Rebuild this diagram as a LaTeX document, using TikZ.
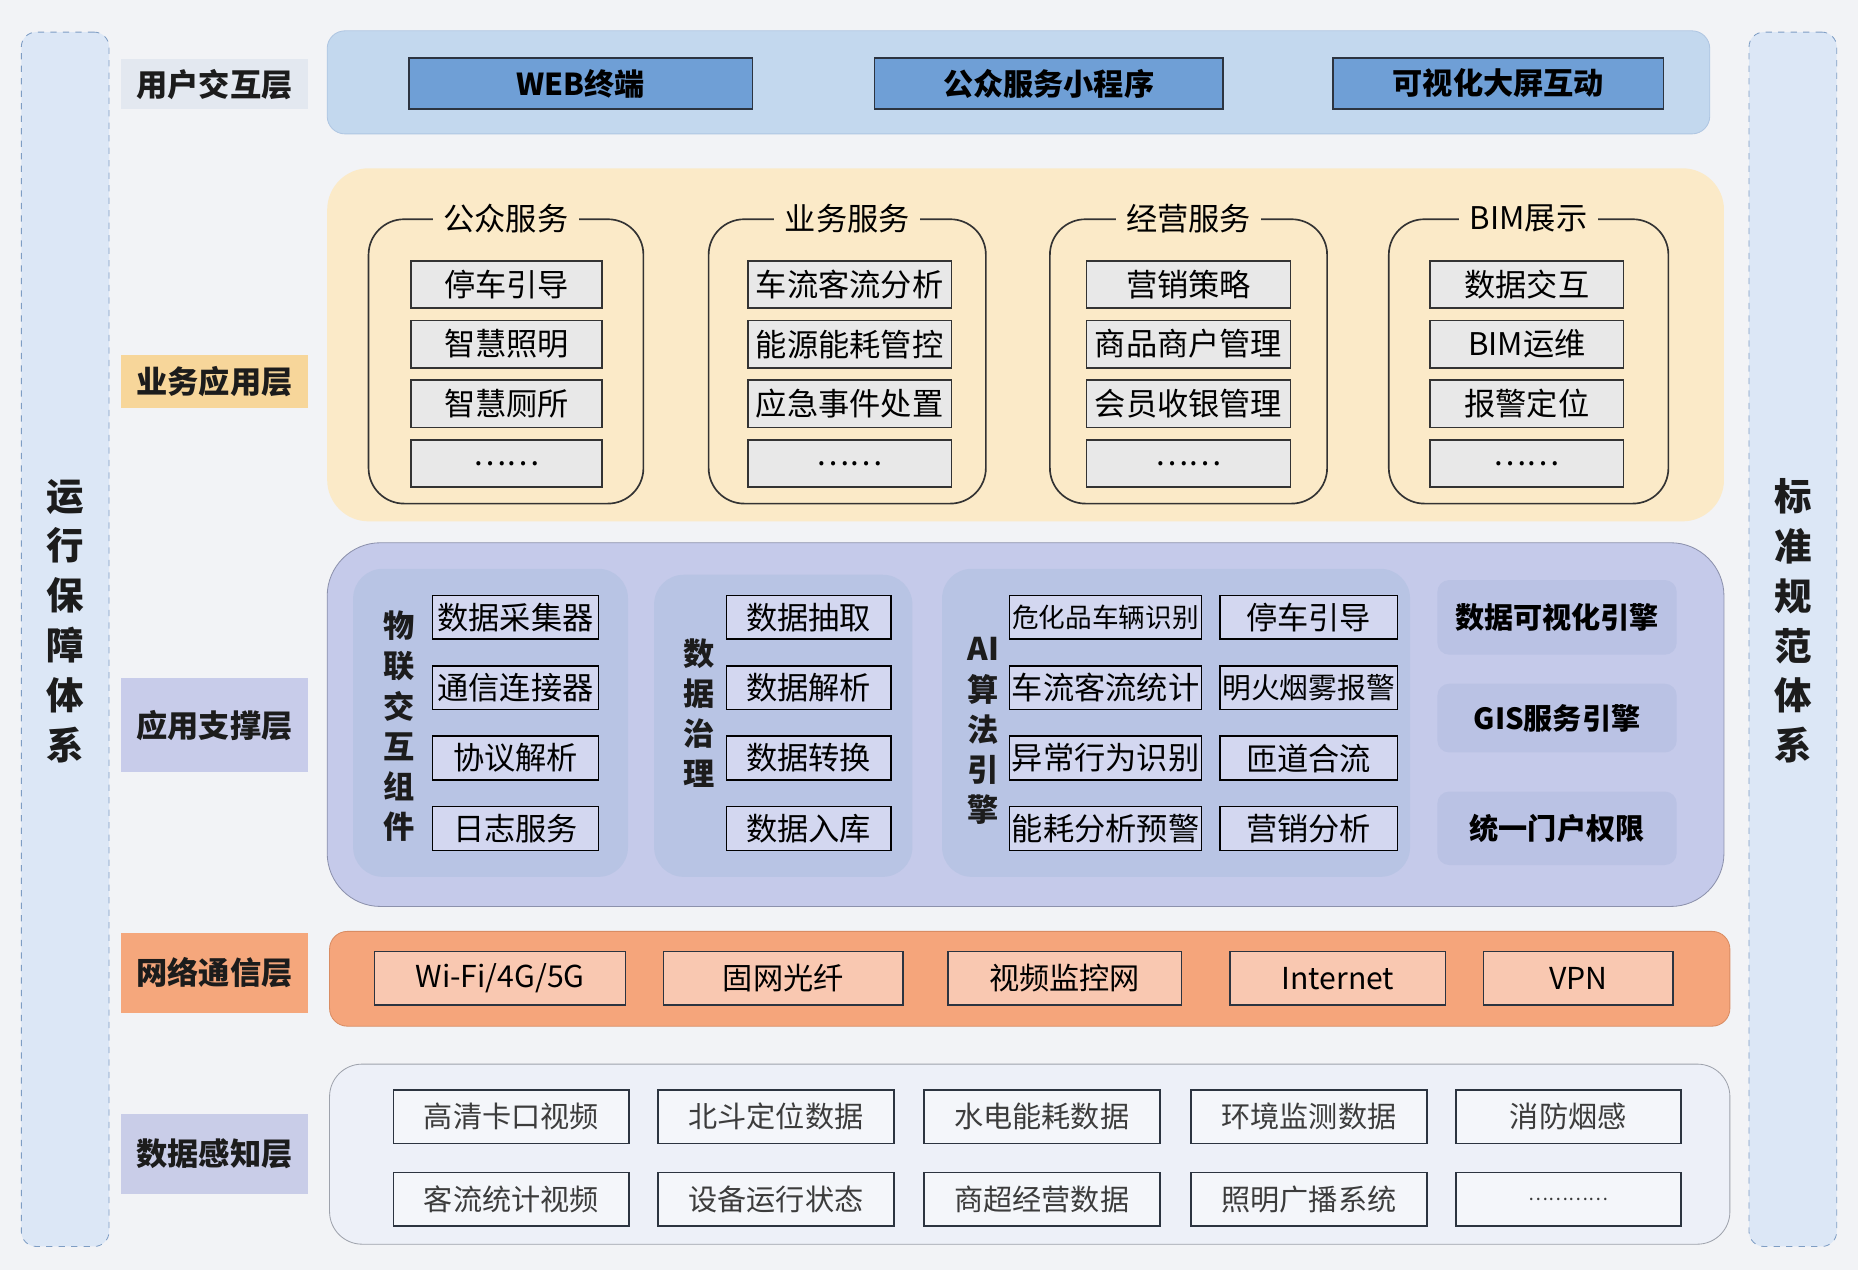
\documentclass[tikz,border=0pt]{standalone}
\usepackage{fontspec}
\setmainfont{Noto Sans CJK SC}
\usetikzlibrary{positioning}

\definecolor{pagebg}{HTML}{F2F3F6}
\definecolor{sidebg}{HTML}{DCE7F6}
\definecolor{sideln}{HTML}{7E9DC4}
\definecolor{txtdark}{HTML}{1C1C1C}
\definecolor{txtgray}{HTML}{3C3C3C}
\definecolor{ulbl}{HTML}{E3E8F0}
\definecolor{upanel}{HTML}{C3D8EE}
\definecolor{uln}{HTML}{AFC6E2}
\definecolor{ublue}{HTML}{6F9FD6}
\definecolor{btnln}{HTML}{2C3440}
\definecolor{bizlbl}{HTML}{F7D69A}
\definecolor{bizbg}{HTML}{FBEAC8}
\definecolor{grpln}{HTML}{333333}
\definecolor{itemgray}{HTML}{E8E8E8}
\definecolor{suplbl}{HTML}{C8CCEA}
\definecolor{supbg}{HTML}{C5CAEA}
\definecolor{supln}{HTML}{8C91AC}
\definecolor{subbg}{HTML}{B8C4E4}
\definecolor{sboxbg}{HTML}{D3D7F0}
\definecolor{padbg}{HTML}{BAC2E4}
\definecolor{netlbl}{HTML}{F5A77C}
\definecolor{netbg}{HTML}{F5A57B}
\definecolor{netln}{HTML}{D98C63}
\definecolor{netbox}{HTML}{F9C8B1}
\definecolor{datlbl}{HTML}{C9CDE8}
\definecolor{datbg}{HTML}{EDF0F8}
\definecolor{datln}{HTML}{9EA2AC}
\definecolor{dboxbg}{HTML}{F4F6FA}

\begin{document}
\begin{tikzpicture}[x=0.02cm,y=-0.02cm,node distance=0.18cm,
    side/.style={draw=sideln,dashed,fill=sidebg,rounded corners=0.25cm,minimum width=1.48cm,minimum height=20.5cm},
    vtxt/.style={align=center,text=txtdark,font=\bfseries\fontsize{18}{23.9}\selectfont},
    lbl/.style={minimum width=3.16cm,text=txtdark,font=\bfseries\fontsize{15}{18}\selectfont},
    ubtn/.style={draw=btnln,fill=ublue,thick,minimum height=0.86cm,font=\bfseries\fontsize{14.5}{17}\selectfont},
    grp/.style={draw=grpln,thick,rounded corners=0.6cm,minimum height=4.8cm},
    grptitle/.style={fill=bizbg,inner xsep=5pt,inner ysep=1pt,font=\fontsize{15}{18}\selectfont},
    bitem/.style={draw=grpln,thick,fill=itemgray,minimum height=0.8cm,font=\fontsize{15}{18}\selectfont},
    sub/.style={fill=subbg,rounded corners=0.5cm},
    stxt/.style={align=center,text=txtdark,font=\bfseries\fontsize{15}{19.3}\selectfont},
    sbox/.style={draw=black,thick,fill=sboxbg,minimum height=0.74cm,inner xsep=1pt,font=\fontsize{15}{18}\selectfont},
    pad/.style={fill=padbg,rounded corners=0.2cm,minimum width=4.04cm,font=\bfseries\fontsize{14}{17}\selectfont},
    nbox/.style={draw=btnln,thick,fill=netbox,minimum height=0.9cm,font=\fontsize{14.5}{17}\selectfont},
    dbox/.style={draw=btnln,thick,fill=dboxbg,minimum height=0.9cm,minimum width=3.98cm,text=txtgray,font=\fontsize{14}{17}\selectfont}]

    \fill[pagebg] (0,0) rectangle (1568,1072);
    \useasboundingbox (0,0) rectangle (1568,1072);

    \node[side] (L) at (55,539.5) {};
    \node[side] (R) at (1513,539.5) {};
    \node[vtxt] (Lt) at (L |- 0,524) {运\\行\\保\\障\\体\\系};
    \node[vtxt] (Rt) at (R |- 0,524) {标\\准\\规\\范\\体\\系};

    \node[lbl,fill=ulbl,minimum height=0.84cm] (L1) at (181,71)    {用户交互层};
    \node[lbl,fill=bizlbl,minimum height=0.9cm] (L2) at (181,322)  {业务应用层};
    \node[lbl,fill=suplbl,minimum height=1.58cm] (L3) at (181,612) {应用支撑层};
    \node[lbl,fill=netlbl,minimum height=1.36cm] (L4) at (181,821) {网络通信层};
    \node[lbl,fill=datlbl,minimum height=1.36cm] (L5) at (181,974) {数据感知层};

    \node[draw=uln,fill=upanel,rounded corners=0.3cm,minimum width=23.34cm,minimum height=1.74cm] (P1) at (859.5,69.5) {};
    \node[ubtn,minimum width=5.8cm]  (U1) at (490,70.5)    {WEB终端};
    \node[ubtn,minimum width=5.88cm] (U2) at (885,70.5)    {公众服务小程序};
    \node[ubtn,minimum width=5.58cm] (U3) at (1264.5,70.5) {可视化大屏互动};

    \node[fill=bizbg,rounded corners=0.7cm,minimum width=23.58cm,minimum height=5.96cm] (P2) at (865.5,291) {};
    \node[grp,minimum width=4.64cm] (G1) at (427,305)  {};
    \node[grp,minimum width=4.68cm] (G2) at (715,305)  {};
    \node[grp,minimum width=4.68cm] (G3) at (1003,305) {};
    \node[grp,minimum width=4.72cm] (G4) at (1290,305) {};
    \node[grptitle] (G1t) at (G1.north) {公众服务};
    \node[grptitle] (G2t) at (G2.north) {业务服务};
    \node[grptitle] (G3t) at (G3.north) {经营服务};
    \node[grptitle] (G4t) at (G4.north) {BIM展示};

    \node[bitem,minimum width=3.22cm] (A1) at (427.5,240) {停车引导};
    \node[bitem,minimum width=3.22cm] (A2) [below=of A1]   {智慧照明};
    \node[bitem,minimum width=3.22cm] (A3) [below=of A2]   {智慧厕所};
    \node[bitem,minimum width=3.22cm] (A4) [below=of A3]   {……};
    \node[bitem,minimum width=3.44cm] (B1) at (717,240)   {车流客流分析};
    \node[bitem,minimum width=3.44cm] (B2) [below=of B1]   {能源能耗管控};
    \node[bitem,minimum width=3.44cm] (B3) [below=of B2]   {应急事件处置};
    \node[bitem,minimum width=3.44cm] (B4) [below=of B3]   {……};
    \node[bitem,minimum width=3.44cm] (C1) at (1003,240)  {营销策略};
    \node[bitem,minimum width=3.44cm] (C2) [below=of C1]   {商品商户管理};
    \node[bitem,minimum width=3.44cm] (C3) [below=of C2]   {会员收银管理};
    \node[bitem,minimum width=3.44cm] (C4) [below=of C3]   {……};
    \node[bitem,minimum width=3.26cm] (D1) at (1288.5,240) {数据交互};
    \node[bitem,minimum width=3.26cm] (D2) [below=of D1]   {BIM运维};
    \node[bitem,minimum width=3.26cm] (D3) [below=of D2]   {报警定位};
    \node[bitem,minimum width=3.26cm] (D4) [below=of D3]   {……};

    \node[draw=supln,fill=supbg,rounded corners=0.9cm,minimum width=23.58cm,minimum height=6.14cm] (P3) at (865.5,611.5) {};
    \node[sub,minimum width=4.64cm,minimum height=5.2cm] (S1) at (414,610)   {};
    \node[sub,minimum width=4.36cm,minimum height=5.1cm] (S2) at (661,612.5) {};
    \node[sub,minimum width=7.9cm,minimum height=5.2cm]  (S3) at (992.5,610) {};
    \node[stxt] (S1t) at (337,613) {物\\联\\交\\互\\组\\件};
    \node[stxt] (S2t) at (590,602) {数\\据\\治\\理};
    \node[stxt] (S3t) at (830,617) {AI\\算\\法\\引\\擎};

    \node[sbox,minimum width=2.8cm] (E1) at (435,521)    {数据采集器};
    \node[sbox,minimum width=2.8cm] (E2) [below=0.42cm of E1] {通信连接器};
    \node[sbox,minimum width=2.8cm] (E3) [below=0.42cm of E2] {协议解析};
    \node[sbox,minimum width=2.8cm] (E4) [below=0.42cm of E3] {日志服务};
    \node[sbox,minimum width=2.78cm] (F1) at (682.5,521) {数据抽取};
    \node[sbox,minimum width=2.78cm] (F2) [below=0.42cm of F1] {数据解析};
    \node[sbox,minimum width=2.78cm] (F3) [below=0.42cm of F2] {数据转换};
    \node[sbox,minimum width=2.78cm] (F4) [below=0.42cm of F3] {数据入库};
    \node[sbox,minimum width=3.24cm,font=\fontsize{12.8}{16}\selectfont] (H1) at (933,521) {危化品车辆识别};
    \node[sbox,minimum width=3.24cm] (H2) [below=0.42cm of H1] {车流客流统计};
    \node[sbox,minimum width=3.24cm] (H3) [below=0.42cm of H2] {异常行为识别};
    \node[sbox,minimum width=3.24cm] (H4) [below=0.42cm of H3] {能耗分析预警};
    \node[sbox,minimum width=3.0cm] (K1) [right=0.28cm of H1] {停车引导};
    \node[sbox,minimum width=3.0cm,font=\fontsize{13.8}{17}\selectfont] (K2) [right=0.28cm of H2] {明火烟雾报警};
    \node[sbox,minimum width=3.0cm] (K3) [right=0.28cm of H3] {匝道合流};
    \node[sbox,minimum width=3.0cm] (K4) [right=0.28cm of H4] {营销分析};

    \node[pad,minimum height=1.26cm] (Q1) at (1314,521) {数据可视化引擎};
    \node[pad,minimum height=1.16cm] (Q2) at (1314,606) {GIS服务引擎};
    \node[pad,minimum height=1.24cm] (Q3) at (1314,699) {统一门户权限};

    \node[draw=netln,fill=netbg,rounded corners=0.3cm,minimum width=23.64cm,minimum height=1.6cm] (P4) at (869,826) {};
    \node[nbox,minimum width=4.24cm] (N1) at (422,825.5)    {Wi-Fi/4G/5G};
    \node[nbox,minimum width=4.04cm] (N2) at (661,825.5)    {固网光纤};
    \node[nbox,minimum width=3.94cm] (N3) at (898.5,825.5)  {视频监控网};
    \node[nbox,minimum width=3.64cm] (N4) at (1129,825.5)   {Internet};
    \node[nbox,minimum width=3.2cm]  (N5) at (1332,825.5)   {VPN};

    \node[draw=datln,fill=datbg,rounded corners=0.55cm,minimum width=23.64cm,minimum height=3.04cm] (P5) at (869,974) {};
    \node[dbox] (V1) at (431.5,942.5)   {高清卡口视频};
    \node[dbox] (V2) [right=0.46cm of V1] {北斗定位数据};
    \node[dbox] (V3) [right=0.48cm of V2] {水电能耗数据};
    \node[dbox] (V4) [right=0.5cm of V3]  {环境监测数据};
    \node[dbox,minimum width=3.8cm] (V5) [right=0.46cm of V4] {消防烟感};
    \node[dbox] (W1) [below=0.46cm of V1] {客流统计视频};
    \node[dbox] (W2) [below=0.46cm of V2] {设备运行状态};
    \node[dbox] (W3) [below=0.46cm of V3] {商超经营数据};
    \node[dbox] (W4) [below=0.46cm of V4] {照明广播系统};
    \node[dbox,minimum width=3.8cm,font=\fontsize{9}{11}\selectfont] (W5) [below=0.46cm of V5] {…………};
\end{tikzpicture}
\end{document}
